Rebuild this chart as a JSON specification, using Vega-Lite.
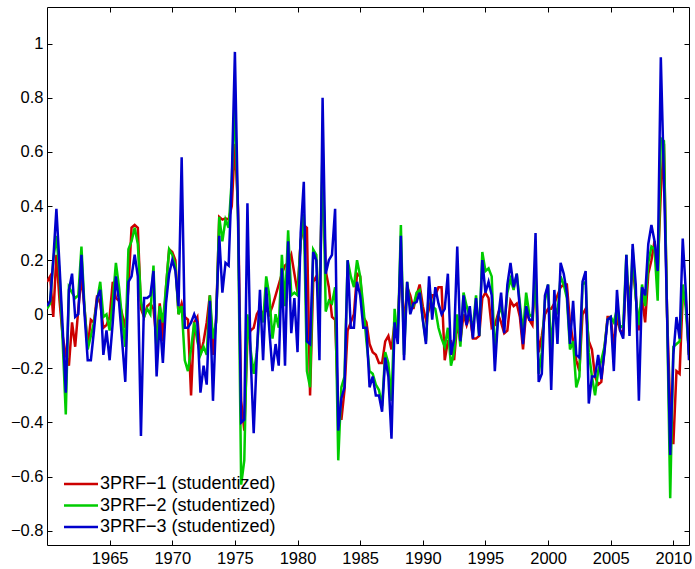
{
  "$schema": "https://vega.github.io/schema/vega-lite/v6.json",
  "width": 642,
  "height": 538,
  "autosize": {"type": "none"},
  "padding": {"left": 47, "top": 7, "right": 6, "bottom": 24},
  "background": "white",
  "config": {
    "view": {"stroke": "black", "strokeWidth": 1},
    "font": "Liberation Sans",
    "axis": {"grid": false, "domain": false, "tickColor": "black", "labelColor": "black", "labelFont": "Liberation Sans", "labelFontSize": 16.5, "tickSize": -5, "tickWidth": 1, "title": null}
  },
  "data": {"values": [
    {"t":1960,"a":0.12,"b":0.02,"c":0.03},{"t":1960.25,"a":0.14,"b":0.04,"c":0.05},{"t":1960.5,"a":-0.01,"b":0.2,"c":0.2},{"t":1960.75,"a":0.22,"b":0.29,"c":0.39},
    {"t":1961,"a":0.05,"b":0.15,"c":0.18},{"t":1961.25,"a":-0.08,"b":-0.1,"c":-0.05},{"t":1961.5,"a":-0.15,"b":-0.37,"c":-0.29},{"t":1961.75,"a":-0.19,"b":0.1,"c":0.09},
    {"t":1962,"a":-0.03,"b":0.08,"c":0.15},{"t":1962.25,"a":-0.12,"b":0.06,"c":-0.01},{"t":1962.5,"a":0.02,"b":0.07,"c":0.0},{"t":1962.75,"a":0.14,"b":0.25,"c":0.22},
    {"t":1963,"a":0.02,"b":0.02,"c":0.0},{"t":1963.25,"a":-0.12,"b":-0.13,"c":-0.17},{"t":1963.5,"a":-0.02,"b":-0.08,"c":-0.17},{"t":1963.75,"a":-0.03,"b":-0.03,"c":-0.06},
    {"t":1964,"a":0.07,"b":0.05,"c":0.06},{"t":1964.25,"a":0.04,"b":0.12,"c":0.09},{"t":1964.5,"a":-0.05,"b":-0.01,"c":-0.15},{"t":1964.75,"a":-0.04,"b":0.0,"c":-0.06},
    {"t":1965,"a":-0.01,"b":-0.06,"c":-0.17},{"t":1965.25,"a":0.12,"b":0.05,"c":-0.03},{"t":1965.5,"a":0.06,"b":0.19,"c":0.14},{"t":1965.75,"a":0.05,"b":0.1,"c":0.045},
    {"t":1966,"a":0.0,"b":-0.02,"c":-0.1},{"t":1966.25,"a":-0.05,"b":-0.12,"c":-0.25},{"t":1966.5,"a":0.1,"b":0.24,"c":0.12},{"t":1966.75,"a":0.32,"b":0.27,"c":0.14},
    {"t":1967,"a":0.33,"b":0.32,"c":0.22},{"t":1967.25,"a":0.32,"b":0.26,"c":0.14},{"t":1967.5,"a":0.02,"b":0.05,"c":-0.45},{"t":1967.75,"a":-0.01,"b":-0.01,"c":0.06},
    {"t":1968,"a":0.03,"b":0.02,"c":0.06},{"t":1968.25,"a":0.04,"b":0.0,"c":0.07},{"t":1968.5,"a":0.02,"b":0.18,"c":0.16},{"t":1968.75,"a":-0.1,"b":-0.15,"c":-0.23},
    {"t":1969,"a":0.04,"b":0.03,"c":-0.02},{"t":1969.25,"a":-0.1,"b":-0.03,"c":-0.18},{"t":1969.5,"a":0.1,"b":0.1,"c":0.04},{"t":1969.75,"a":0.24,"b":0.24,"c":0.15},
    {"t":1970,"a":0.23,"b":0.22,"c":0.2},{"t":1970.25,"a":0.2,"b":0.18,"c":0.16},{"t":1970.5,"a":0.0,"b":0.0,"c":0.03},{"t":1970.75,"a":0.04,"b":0.03,"c":0.58},
    {"t":1971,"a":-0.01,"b":-0.17,"c":-0.05},{"t":1971.25,"a":-0.02,"b":-0.21,"c":-0.05},{"t":1971.5,"a":-0.3,"b":-0.13,"c":-0.03},{"t":1971.75,"a":-0.03,"b":-0.03,"c":0.0},
    {"t":1972,"a":-0.01,"b":-0.1,"c":-0.03},{"t":1972.25,"a":-0.15,"b":-0.15,"c":-0.29},{"t":1972.5,"a":-0.1,"b":-0.12,"c":-0.19},{"t":1972.75,"a":-0.03,"b":-0.15,"c":-0.26},
    {"t":1973,"a":0.07,"b":0.07,"c":0.05},{"t":1973.25,"a":-0.15,"b":-0.09,"c":-0.32},{"t":1973.5,"a":-0.02,"b":-0.03,"c":-0.01},{"t":1973.75,"a":0.36,"b":0.36,"c":0.29},
    {"t":1974,"a":0.35,"b":0.27,"c":0.08},{"t":1974.25,"a":0.355,"b":0.35,"c":0.19},{"t":1974.5,"a":0.35,"b":0.32,"c":0.18},{"t":1974.75,"a":0.4,"b":0.5,"c":0.5},
    {"t":1975,"a":0.63,"b":0.78,"c":0.97},{"t":1975.25,"a":0.39,"b":0.35,"c":0.37},{"t":1975.5,"a":-0.32,"b":-0.63,"c":-0.4},{"t":1975.75,"a":-0.43,"b":-0.54,"c":-0.39},
    {"t":1976,"a":-0.09,"b":0.0,"c":0.41},{"t":1976.25,"a":-0.06,"b":-0.13,"c":-0.15},{"t":1976.5,"a":-0.05,"b":-0.22,"c":-0.44},{"t":1976.75,"a":0.0,"b":-0.14,"c":-0.15},
    {"t":1977,"a":0.02,"b":0.03,"c":0.09},{"t":1977.25,"a":0.0,"b":-0.03,"c":-0.17},{"t":1977.5,"a":0.02,"b":0.14,"c":0.1},{"t":1977.75,"a":0.0,"b":0.07,"c":-0.06},
    {"t":1978,"a":0.03,"b":-0.09,"c":-0.21},{"t":1978.25,"a":0.07,"b":0.0,"c":-0.11},{"t":1978.5,"a":0.11,"b":-0.05,"c":-0.19},{"t":1978.75,"a":0.15,"b":0.22,"c":0.17},
    {"t":1979,"a":0.18,"b":0.03,"c":-0.19},{"t":1979.25,"a":0.19,"b":0.31,"c":0.27},{"t":1979.5,"a":0.22,"b":0.07,"c":-0.07},{"t":1979.75,"a":0.15,"b":0.08,"c":0.06},
    {"t":1980,"a":0.08,"b":0.07,"c":-0.14},{"t":1980.25,"a":0.27,"b":0.27,"c":0.3},{"t":1980.5,"a":0.33,"b":0.37,"c":0.49},{"t":1980.75,"a":0.32,"b":-0.21,"c":-0.1},
    {"t":1981,"a":-0.3,"b":-0.27,"c":-0.11},{"t":1981.25,"a":0.12,"b":0.24,"c":0.23},{"t":1981.5,"a":0.14,"b":0.22,"c":0.2},{"t":1981.75,"a":0.05,"b":-0.05,"c":-0.17},
    {"t":1982,"a":0.55,"b":0.64,"c":0.8},{"t":1982.25,"a":0.16,"b":0.01,"c":0.15},{"t":1982.5,"a":0.1,"b":0.05,"c":0.2},{"t":1982.75,"a":-0.01,"b":0.04,"c":0.22},
    {"t":1983,"a":-0.02,"b":0.1,"c":0.39},{"t":1983.25,"a":-0.35,"b":-0.54,"c":-0.43},{"t":1983.5,"a":-0.39,"b":-0.27,"c":-0.31},{"t":1983.75,"a":-0.28,"b":-0.23,"c":-0.27},
    {"t":1984,"a":-0.06,"b":0.2,"c":0.2},{"t":1984.25,"a":-0.03,"b":0.14,"c":-0.05},{"t":1984.5,"a":0.0,"b":0.1,"c":-0.05},{"t":1984.75,"a":0.15,"b":0.2,"c":0.12},
    {"t":1985,"a":0.14,"b":0.14,"c":0.07},{"t":1985.25,"a":-0.01,"b":0.03,"c":-0.05},{"t":1985.5,"a":-0.03,"b":-0.1,"c":-0.05},{"t":1985.75,"a":-0.11,"b":-0.21,"c":-0.27},
    {"t":1986,"a":-0.14,"b":-0.22,"c":-0.23},{"t":1986.25,"a":-0.15,"b":-0.26,"c":-0.3},{"t":1986.5,"a":-0.18,"b":-0.28,"c":-0.3},{"t":1986.75,"a":-0.18,"b":-0.34,"c":-0.36},
    {"t":1987,"a":-0.1,"b":-0.14,"c":-0.16},{"t":1987.25,"a":-0.08,"b":-0.18,"c":-0.23},{"t":1987.5,"a":-0.13,"b":-0.32,"c":-0.46},{"t":1987.75,"a":-0.03,"b":0.02,"c":-0.03},
    {"t":1988,"a":-0.04,"b":-0.1,"c":-0.11},{"t":1988.25,"a":0.2,"b":0.33,"c":0.29},{"t":1988.5,"a":-0.05,"b":-0.15,"c":-0.17},{"t":1988.75,"a":0.1,"b":0.12,"c":0.12},
    {"t":1989,"a":0.07,"b":0.03,"c":0.0},{"t":1989.25,"a":0.02,"b":0.03,"c":0.04},{"t":1989.5,"a":0.07,"b":0.08,"c":0.045},{"t":1989.75,"a":0.11,"b":0.09,"c":0.08},
    {"t":1990,"a":0.03,"b":-0.02,"c":-0.02},{"t":1990.25,"a":-0.02,"b":-0.1,"c":-0.11},{"t":1990.5,"a":0.02,"b":0.1,"c":0.14},{"t":1990.75,"a":0.07,"b":0.03,"c":-0.02},
    {"t":1991,"a":0.07,"b":0.02,"c":0.1},{"t":1991.25,"a":0.1,"b":-0.05,"c":0.04},{"t":1991.5,"a":0.1,"b":-0.09,"c":0.0},{"t":1991.75,"a":-0.17,"b":-0.12,"c":0.02},
    {"t":1992,"a":-0.1,"b":-0.05,"c":0.15},{"t":1992.25,"a":-0.1,"b":-0.19,"c":-0.15},{"t":1992.5,"a":-0.17,"b":-0.14,"c":-0.09},{"t":1992.75,"a":-0.03,"b":0.0,"c":0.25},
    {"t":1993,"a":-0.1,"b":-0.12,"c":-0.1},{"t":1993.25,"a":0.0,"b":0.08,"c":0.07},{"t":1993.5,"a":-0.04,"b":0.03,"c":-0.04},{"t":1993.75,"a":0.0,"b":-0.01,"c":0.03},
    {"t":1994,"a":-0.09,"b":-0.05,"c":-0.09},{"t":1994.25,"a":-0.09,"b":0.07,"c":0.06},{"t":1994.5,"a":-0.08,"b":-0.08,"c":-0.08},{"t":1994.75,"a":0.06,"b":0.23,"c":0.2},
    {"t":1995,"a":0.08,"b":0.16,"c":0.08},{"t":1995.25,"a":0.06,"b":0.17,"c":0.12},{"t":1995.5,"a":-0.05,"b":0.14,"c":0.07},{"t":1995.75,"a":-0.04,"b":-0.15,"c":-0.21},
    {"t":1996,"a":0.0,"b":-0.01,"c":-0.02},{"t":1996.25,"a":-0.03,"b":0.03,"c":0.08},{"t":1996.5,"a":-0.07,"b":-0.04,"c":-0.07},{"t":1996.75,"a":-0.06,"b":0.08,"c":0.11},
    {"t":1997,"a":0.05,"b":0.13,"c":0.19},{"t":1997.25,"a":0.03,"b":0.09,"c":0.1},{"t":1997.5,"a":0.04,"b":0.15,"c":0.15},{"t":1997.75,"a":-0.01,"b":0.04,"c":0.02},
    {"t":1998,"a":-0.13,"b":-0.07,"c":-0.11},{"t":1998.25,"a":0.01,"b":0.08,"c":0.03},{"t":1998.5,"a":-0.02,"b":0.0,"c":-0.02},{"t":1998.75,"a":-0.04,"b":-0.01,"c":-0.02},
    {"t":1999,"a":0.16,"b":0.14,"c":0.3},{"t":1999.25,"a":-0.14,"b":-0.22,"c":-0.25},{"t":1999.5,"a":-0.08,"b":-0.14,"c":-0.22},{"t":1999.75,"a":0.0,"b":0.05,"c":0.07},
    {"t":2000,"a":0.02,"b":0.11,"c":0.11},{"t":2000.25,"a":0.02,"b":-0.13,"c":-0.28},{"t":2000.5,"a":0.04,"b":0.03,"c":0.09},{"t":2000.75,"a":0.07,"b":0.0,"c":-0.11},
    {"t":2001,"a":0.1,"b":0.14,"c":0.19},{"t":2001.25,"a":0.11,"b":0.11,"c":0.15},{"t":2001.5,"a":0.11,"b":0.06,"c":0.08},{"t":2001.75,"a":-0.03,"b":-0.13,"c":-0.11},
    {"t":2002,"a":-0.1,"b":-0.1,"c":0.05},{"t":2002.25,"a":-0.17,"b":-0.27,"c":-0.15},{"t":2002.5,"a":-0.21,"b":-0.23,"c":-0.16},{"t":2002.75,"a":0.0,"b":0.11,"c":0.12},
    {"t":2003,"a":0.02,"b":0.12,"c":0.16},{"t":2003.25,"a":-0.1,"b":-0.14,"c":-0.33},{"t":2003.5,"a":-0.13,"b":-0.23,"c":-0.23},{"t":2003.75,"a":-0.23,"b":-0.3,"c":-0.23},
    {"t":2004,"a":-0.26,"b":-0.21,"c":-0.15},{"t":2004.25,"a":-0.25,"b":-0.17,"c":-0.24},{"t":2004.5,"a":-0.13,"b":-0.12,"c":-0.14},{"t":2004.75,"a":-0.01,"b":-0.02,"c":-0.02},
    {"t":2005,"a":-0.01,"b":-0.01,"c":-0.01},{"t":2005.25,"a":-0.12,"b":-0.03,"c":-0.21},{"t":2005.5,"a":-0.01,"b":0.02,"c":0.09},{"t":2005.75,"a":-0.06,"b":-0.05,"c":-0.06},
    {"t":2006,"a":-0.07,"b":-0.04,"c":-0.09},{"t":2006.25,"a":0.16,"b":0.22,"c":0.22},{"t":2006.5,"a":0.05,"b":-0.03,"c":-0.08},{"t":2006.75,"a":0.18,"b":0.24,"c":0.26},
    {"t":2007,"a":0.07,"b":0.06,"c":0.11},{"t":2007.25,"a":-0.06,"b":-0.04,"c":-0.32},{"t":2007.5,"a":0.06,"b":0.11,"c":0.1},{"t":2007.75,"a":-0.03,"b":0.03,"c":0.07},
    {"t":2008,"a":0.15,"b":0.19,"c":0.26},{"t":2008.25,"a":0.2,"b":0.25,"c":0.33},{"t":2008.5,"a":0.27,"b":0.24,"c":0.27},{"t":2008.75,"a":0.16,"b":0.05,"c":0.16},
    {"t":2009,"a":0.45,"b":0.65,"c":0.95},{"t":2009.25,"a":0.63,"b":0.64,"c":0.5},{"t":2009.5,"a":0.0,"b":0.0,"c":0.0},{"t":2009.75,"a":-0.35,"b":-0.68,"c":-0.52},
    {"t":2010,"a":-0.48,"b":-0.12,"c":-0.15},{"t":2010.25,"a":-0.21,"b":-0.11,"c":-0.01},{"t":2010.5,"a":-0.22,"b":-0.1,"c":-0.09},{"t":2010.75,"a":0.07,"b":0.11,"c":0.28},
    {"t":2011,"a":0.05,"b":0.02,"c":0.08},{"t":2011.25,"a":-0.15,"b":-0.15,"c":-0.17}
  ]},
  "transform": [{"fold": ["a", "b", "c"], "as": ["s", "v"]}],
  "layer": [
    {
      "mark": {"type": "line", "strokeWidth": 2.5, "clip": true},
      "encoding": {
        "x": {"field": "t", "type": "quantitative", "scale": {"domain": [1960, 2011.25], "nice": false, "zero": false},
              "axis": {"orient": "bottom", "values": [1965,1970,1975,1980,1985,1990,1995,2000,2005,2010], "format": "d", "labelPadding": 10}},
        "y": {"field": "v", "type": "quantitative", "scale": {"domain": [-0.853, 1.136], "nice": false, "zero": false},
              "axis": {"orient": "left", "values": [-0.8,-0.6,-0.4,-0.2,0,0.2,0.4,0.6,0.8,1], "format": ".1~f", "labelPadding": 9}},
        "color": {"field": "s", "type": "nominal",
                  "scale": {"domain": ["a", "b", "c"], "range": ["#cc0000", "#00cc00", "#0000cc"]},
                  "legend": {"title": null, "orient": "none", "legendX": 25, "legendY": 468, "symbolType": "M-3.4,0H3.4", "symbolSize": 100, "symbolStrokeWidth": 2.5, "labelFont": "Liberation Sans", "labelFontSize": 18, "labelColor": "black", "labelOffset": 10, "labelLimit": 0, "rowPadding": 3.5, "padding": 0,
                             "labelExpr": "datum.label == 'a' ? '3PRF\u22121 (studentized)' : datum.label == 'b' ? '3PRF\u22122 (studentized)' : '3PRF\u22123 (studentized)'"}}
      }
    },
    {
      "mark": {"type": "line", "opacity": 0},
      "encoding": {
        "x": {"field": "t", "type": "quantitative", "axis": {"orient": "top", "values": [1965,1970,1975,1980,1985,1990,1995,2000,2005,2010], "labels": false}},
        "y": {"field": "v", "type": "quantitative", "axis": {"orient": "right", "values": [-0.8,-0.6,-0.4,-0.2,0,0.2,0.4,0.6,0.8,1], "labels": false}},
        "detail": {"field": "s"}
      }
    }
  ],
  "resolve": {"axis": {"x": "independent", "y": "independent"}}
}
